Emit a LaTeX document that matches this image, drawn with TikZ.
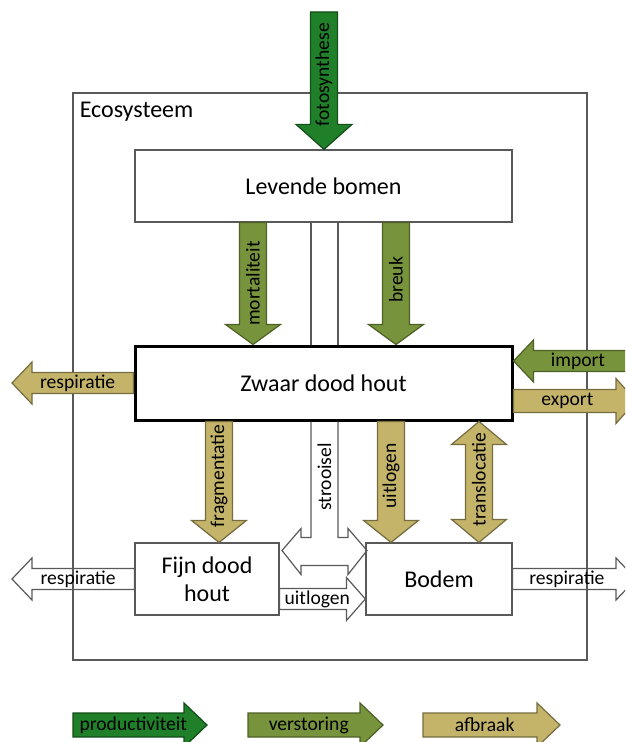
\documentclass[tikz,border=0pt]{standalone}
\usepackage{fontspec}
\setmainfont{Carlito}
\usetikzlibrary{calc,positioning}
\definecolor{prodgreen}{RGB}{32,128,42}
\definecolor{verstgreen}{RGB}{119,147,60}
\definecolor{afbraaktan}{RGB}{196,180,106}
\definecolor{linegray}{RGB}{89,89,89}

\tikzset{
  shaftw/.code={\def\arrsw{#1}},
  headw/.code={\def\arrhw{#1}},
  headl/.code={\def\arrhl{#1}},
  lpos/.code={\def\arrlp{#1}},
  flowbase/.style={shaftw=6.75pt, headw=13.75pt, headl=10pt, lpos=0.5, line width=0.6pt, line join=miter},
  thin arrow/.style={shaftw=5.25pt, headw=10.5pt, headl=10pt},
  legend arrow/.style={shaftw=6pt, headw=11pt, headl=11.5pt},
  prod/.style={fill=prodgreen, draw=prodgreen!60!black},
  verst/.style={fill=verstgreen, draw=verstgreen!65!black},
  afbr/.style={fill=afbraaktan, draw=afbraaktan!60!black},
  open/.style={draw=linegray, fill=none},
  vlbl/.style={every node/.append style={rotate=90}},
  lbl/.style={font=\fontsize{9.8}{11}\selectfont, inner sep=0pt},
  box/.style={draw=linegray, line width=0.6pt, fill=white, font=\fontsize{12}{14}\selectfont, align=center}
}

% block arrow: options, from, to, label
\newcommand\flow[4][]{%
  \begin{scope}[flowbase,#1]
  \path (#2) coordinate (fs) (#3) coordinate (fe) ($(fe)!\arrhl!(fs)$) coordinate (fc);
  \draw[#1] ($(fs)!\arrsw!90:(fe)$) -- ($(fc)!\arrsw!-90:(fs)$) -- ($(fc)!\arrhw!-90:(fs)$)
    -- (fe) -- ($(fc)!\arrhw!90:(fs)$) -- ($(fc)!\arrsw!90:(fs)$) -- ($(fs)!\arrsw!-90:(fe)$) -- cycle;
  \path ($(fs)!\arrlp!(fe)$) node[lbl] {#4};
  \end{scope}}

% block arrow with two heads
\newcommand\dflow[4][]{%
  \begin{scope}[flowbase,#1]
  \path (#2) coordinate (fs) (#3) coordinate (fe)
    ($(fs)!\arrhl!(fe)$) coordinate (fb) ($(fe)!\arrhl!(fs)$) coordinate (fc);
  \draw[#1] (fs) -- ($(fb)!\arrhw!90:(fe)$) -- ($(fb)!\arrsw!90:(fe)$) -- ($(fc)!\arrsw!-90:(fs)$)
    -- ($(fc)!\arrhw!-90:(fs)$) -- (fe) -- ($(fc)!\arrhw!90:(fs)$) -- ($(fc)!\arrsw!90:(fs)$)
    -- ($(fb)!\arrsw!-90:(fe)$) -- ($(fb)!\arrhw!-90:(fe)$) -- cycle;
  \path ($(fs)!\arrlp!(fe)$) node[lbl] {#4};
  \end{scope}}

\begin{document}
\begin{tikzpicture}[x=0.5pt, y=-0.5pt]
\useasboundingbox (0,0) rectangle (625,742);
\clip (0,0) rectangle (625,742);

% ecosystem frame
\node[draw=linegray, line width=0.6pt, minimum width=257pt, minimum height=283.5pt] (eco) at (330,376.5) {};
\node[anchor=base west, inner sep=0pt, font=\fontsize{12}{14}\selectfont] (ecolbl) at ([xshift=3.5pt,yshift=-12.5pt]eco.north west) {Ecosysteem};

% pools
\node[box, minimum width=188.5pt, minimum height=36pt] (levende) at (323.5,186) {Levende bomen};
\node[box, draw=black, line width=1.5pt, minimum width=188.5pt, minimum height=37pt] (zwaar) at (323.5,383) {Zwaar dood hout};
\node[box, minimum width=72pt, minimum height=36pt] (fijn) at (207,579) {Fijn dood\\hout};
\node[box, minimum width=73pt, minimum height=36pt] (bodem) at (439,579) {Bodem};

% arrow positions
\coordinate (foto) at (324,12);
\coordinate (mort) at (253,0);
\coordinate (breuk) at (396,0);
\coordinate (strl) at (311,0);
\coordinate (strr) at (338,0);
\coordinate (resp1) at (12,383);
\coordinate (imp) at (645,361);
\coordinate (exp) at (636,401);
\coordinate (frag) at (219,0);
\coordinate (uitl) at (391,0);
\coordinate (trans) at (479,0);
\coordinate (resp2) at (12,579);
\coordinate (resp3) at (636,579);
\coordinate (uitl2) at (0,599);

% productivity and disturbance
\flow[prod, vlbl, headw=14pt, headl=12.5pt, lpos=0.456]{foto}{levende.north -| foto}{fotosynthese}
\flow[verst, vlbl]{levende.south -| mort}{zwaar.north -| mort}{mortaliteit}
\flow[verst, vlbl, lpos=0.47]{levende.south -| breuk}{zwaar.north -| breuk}{breuk}
\flow[verst, thin arrow, lpos=0.51]{imp}{zwaar.east |- imp}{import}

% decomposition
\flow[afbr, thin arrow, lpos=0.46]{zwaar.west}{resp1}{respiratie}
\flow[afbr, shaftw=5.75pt, headw=11.25pt, lpos=0.44]{zwaar.east |- exp}{exp}{export}
\flow[afbr, vlbl, headl=11pt, lpos=0.45]{zwaar.south -| frag}{fijn.north -| frag}{fragmentatie}
\flow[afbr, vlbl, headl=11pt, lpos=0.45]{zwaar.south -| uitl}{bodem.north -| uitl}{uitlogen}
\dflow[afbr, vlbl, headl=11.5pt, lpos=0.48]{zwaar.south -| trans}{bodem.north -| trans}{translocatie}

% litter
\draw[linegray, line width=0.6pt] (levende.south -| strl) -- (zwaar.north -| strl)
  (levende.south -| strr) -- (zwaar.north -| strr);
\draw[open, line width=0.6pt, line join=miter] (zwaar.south -| strl) -- ++(0,116) -- ++(-10,0) -- ++(0,-9)
  -- ++(-19,22) -- ++(19,24) -- ++(0,-9) -- ++(47,0) -- ++(0,9) -- ++(19,-24) -- ++(-19,-22)
  -- ++(0,9) -- ++(-10,0) -- (zwaar.south -| strr);
\node[lbl, rotate=90] (strlbl) at (324.5,477) {strooisel};

\flow[open, thin arrow, lpos=0.46]{fijn.west}{resp2}{respiratie}
\flow[open, thin arrow, lpos=0.44]{bodem.east}{resp3}{respiratie}
\flow[open, thin arrow, headw=10.75pt, headl=9.5pt, lpos=0.44]{fijn.east |- uitl2}{bodem.west |- uitl2}{uitlogen}

% legend
\coordinate (lg1) at (73,725);
\coordinate (lg1e) at (207,725);
\coordinate (lg2) at (248,725);
\coordinate (lg2e) at (383,725);
\coordinate (lg3) at (423,725);
\coordinate (lg3e) at (560,725);
\flow[prod, legend arrow, lpos=0.45]{lg1}{lg1e}{productiviteit}
\flow[verst, legend arrow, lpos=0.45]{lg2}{lg2e}{verstoring}
\flow[afbr, legend arrow, lpos=0.45]{lg3}{lg3e}{afbraak}
\end{tikzpicture}
\end{document}
